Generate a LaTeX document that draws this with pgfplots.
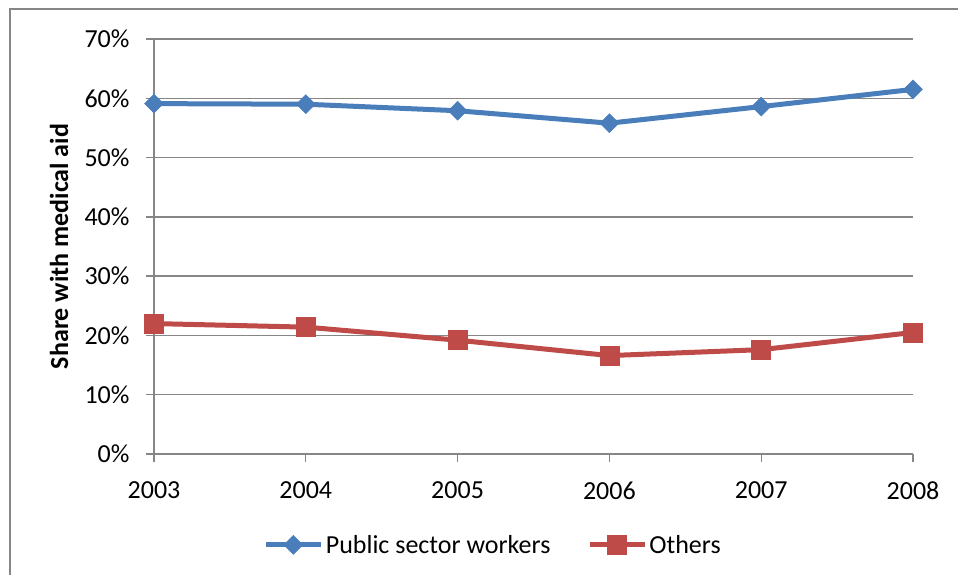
\documentclass[border=0pt]{standalone}
\usepackage{pgfplots}
\pgfplotsset{compat=1.18}
\usepackage{fontspec}
\setmainfont{Carlito}
\definecolor{pubblue}{RGB}{74,126,187}
\definecolor{othred}{RGB}{190,75,72}
\definecolor{gridgray}{RGB}{134,134,134}
\begin{document}
\begin{tikzpicture}
\useasboundingbox (-154bp,-121bp) rectangle (804bp,454bp);
\draw[gridgray, line width=1.2bp] (-144bp,-125bp) -- (-144bp,445bp) -- (810bp,445bp);
\begin{axis}[
  at={(0,0)}, anchor=south west,
  scale only axis, width=759bp, height=415bp,
  xmin=2003, xmax=2008, ymin=0, ymax=70,
  xtick={2003,2004,2005,2006,2007,2008},
  xticklabels={2003,2004,2005,2006,2007,2008},
  ytick={0,10,20,30,40,50,60,70},
  yticklabels={0\%,10\%,20\%,30\%,40\%,50\%,60\%,70\%},
  axis x line=bottom, axis y line=left,
  axis line style={gridgray, line width=1.3bp, -},
  tick align=outside, major tick length=8bp,
  tick style={gridgray, line width=1.3bp},
  ymajorgrids, major grid style={gridgray, line width=1.3bp},
  ticklabel style={font=\fontsize{26bp}{31bp}\selectfont},
  /pgf/number format/assume math mode=true,
  yticklabel style={xshift=-13bp},
  xticklabel style={yshift=-16bp},
  ylabel={\textbf{Share with medical aid}},
  every axis y label/.style={at={(axis description cs:-0.125,0.5)}, rotate=90, anchor=center, font=\fontsize{26bp}{31bp}\selectfont},
  legend columns=2,
  legend style={at={(axis description cs:0.447,-0.219)}, anchor=center, draw=none, fill=none,
    font=\fontsize{26bp}{31bp}\selectfont, /tikz/every even column/.append style={column sep=35bp},
    inner sep=0pt},
  legend cell align=left,
  legend image code/.code={%
    \draw[#1, mark repeat=2, mark phase=2] plot coordinates {(0bp,0bp) (27bp,0bp) (55bp,0bp)};},
  clip=false,
]
\addplot[pubblue, line width=5bp, mark=square*, mark size=6.7bp, mark options={rotate=45, solid, fill=pubblue, draw=pubblue, line width=0.5bp}]
  coordinates {(2003,59.1) (2004,59.0) (2005,57.9) (2006,55.8) (2007,58.6) (2008,61.5)};
\addlegendentry{Public sector workers}
\addplot[othred, line width=5bp, mark=square*, mark size=9.5bp, mark options={solid, fill=othred, draw=othred, line width=0.5bp}]
  coordinates {(2003,22.0) (2004,21.4) (2005,19.2) (2006,16.6) (2007,17.6) (2008,20.5)};
\addlegendentry{Others}
\end{axis}
\end{tikzpicture}
\end{document}
